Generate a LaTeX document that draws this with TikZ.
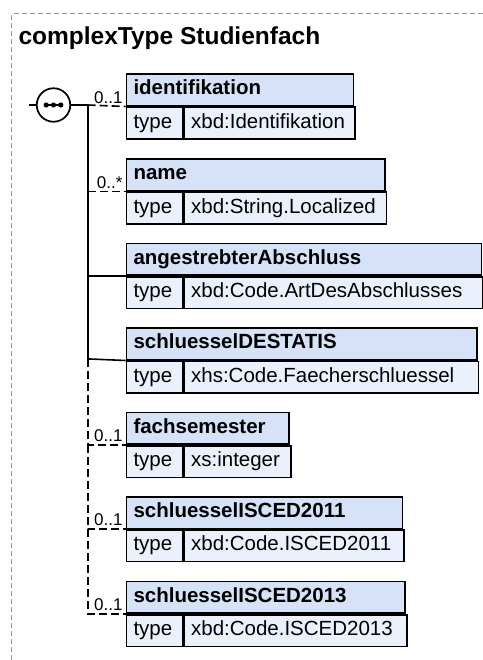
\documentclass[tikz,border=0pt]{standalone}
\usepackage{fontspec}
\setmainfont{Liberation Sans}
\definecolor{hdrfill}{HTML}{D5E2F7}
\definecolor{typfill}{HTML}{EBF1FC}
\definecolor{framegray}{HTML}{999999}
\newcommand\xsdelem[6]{%
  \node[hdr, text width=#4pt] (#1h) at (125.7,#2) {#5};
  \node[typ] (#1t) at (#1h.south west) {type};
  \node[val, text width=#3pt] (#1v) at (#1t.north east) {#6};
}
\begin{document}
\begin{tikzpicture}[x=1pt,y=-1pt,
  box/.style={draw=black, line width=1.6pt, inner xsep=7pt, inner ysep=0pt,
    minimum height=31.6pt, text height=15pt, text depth=5pt, anchor=north west,
    align=left, font=\fontsize{20.5}{24}\selectfont},
  hdr/.style={box, fill=hdrfill, font=\fontsize{20.5}{24}\selectfont\bfseries},
  typ/.style={box, fill=typfill, text width=42pt},
  val/.style={box, fill=typfill},
  conn/.style={line width=1.6pt},
  opt/.style={conn, dash pattern=on 8pt off 4pt},
  mult/.style={font=\fontsize{17}{20}\selectfont, inner sep=0pt, anchor=base east},
]
\useasboundingbox (0,0) rectangle (482,660);
\draw[framegray, line width=1pt, dash pattern=on 5pt off 3pt] (11.7,700) -- (11.7,14) -- (520,14);
\node[anchor=base west, inner sep=0pt, font=\fontsize{24.5}{28}\selectfont\bfseries] (title) at (18.3,45) {complexType Studienfach};

% elements: name, top, value text width (W-70), header text width (W-14), header, value
\xsdelem{e1}{73.3}{157}{213}{identifikation}{xbd:Identifikation}
\xsdelem{e2}{158.3}{188.3}{244.3}{name}{xbd:String.Localized}
\xsdelem{e3}{242.7}{285}{341}{angestrebterAbschluss}{xbd:Code.ArtDesAbschlusses}
\xsdelem{e4}{327.3}{280.3}{336.3}{schluesselDESTATIS}{xhs:Code.Faecherschluessel}
\xsdelem{e5}{411.7}{92.6}{148.6}{fachsemester}{xs:integer}
\xsdelem{e6}{496}{206}{262}{schluesselISCED2011}{xbd:Code.ISCED2011}
\xsdelem{e7}{580.7}{208.6}{264.6}{schluesselISCED2013}{xbd:Code.ISCED2013}

% sequence compositor
\node[draw, circle, line width=1.7pt, minimum size=33.5pt, inner sep=0pt, fill=white] (seq) at (53.5,105) {};
\draw[line width=1.6pt] ([xshift=-8.5pt]seq.center) -- ([xshift=8.5pt]seq.center);
\fill ([xshift=-7.3pt]seq.center) circle (2.6pt);
\fill (seq.center) circle (2.6pt);
\fill ([xshift=7.3pt]seq.center) circle (2.6pt);

\coordinate (in) at (29,105);
\coordinate (sp) at (87.7,105);
\coordinate (spm) at (87.7,358.9);
\draw[conn] (in) -- (seq.west);
\draw[conn] (seq.east) -- (sp);
\draw[conn] (sp) -- (spm);

% connectors
\draw[opt] (sp) -- (e1h.south west);
\draw[opt] (sp |- e2h.south west) -- (e2h.south west);
\draw[conn] (sp |- e3h.south west) -- (e3h.south west);
\draw[conn] (spm) -- (e4h.south west);
\draw[opt] (spm) -- (spm |- e5h.south west) -- (e5h.south west);
\draw[opt] (sp |- e5h.south west) -- (sp |- e6h.south west) -- (e6h.south west);
\draw[opt] (sp |- e6h.south west) -- (sp |- e7h.south west) -- (e7h.south west);

% multiplicities
\node[mult] (m1) at ([xshift=-3pt,yshift=3.3pt]e1h.south west) {0..1};
\node[mult] (m2) at ([xshift=-3pt,yshift=3.3pt]e2h.south west) {0..*};
\node[mult] (m5) at ([xshift=-3pt,yshift=3.3pt]e5h.south west) {0..1};
\node[mult] (m6) at ([xshift=-3pt,yshift=3.3pt]e6h.south west) {0..1};
\node[mult] (m7) at ([xshift=-3pt,yshift=3.3pt]e7h.south west) {0..1};
\end{tikzpicture}
\end{document}
